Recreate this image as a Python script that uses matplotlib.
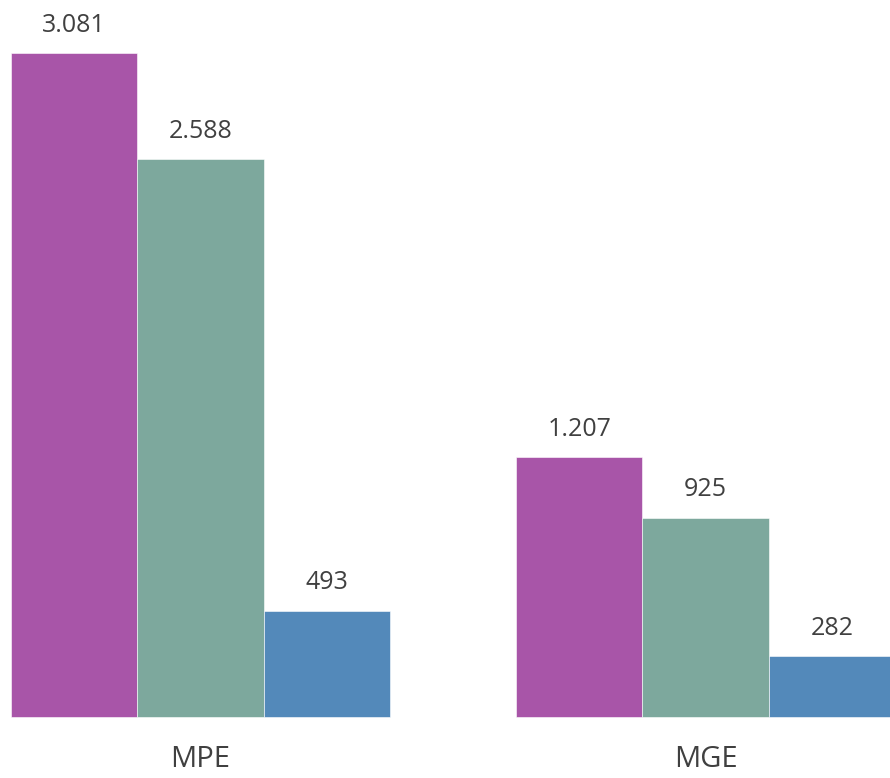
import matplotlib.pyplot as plt
import numpy as np

# Werte aus der Vorlage
kategorien = ['MPE', 'MGE']
reihe1 = [3081, 1207]
reihe2 = [2588, 925]
reihe3 = [493, 282]
farben = ['#A855A8', '#7DA89D', '#5389BA']

def fmt(v):
    return f'{v:,}'.replace(',', '.')

plt.rcParams['font.family'] = ['Open Sans', 'DejaVu Sans']

fig = plt.figure(figsize=(8.9, 7.78), dpi=100)
ax = fig.add_axes([0, 0, 1, 1])

x = np.arange(len(kategorien))
breite = 0.25
for i, (werte, farbe) in enumerate(zip([reihe1, reihe2, reihe3], farben)):
    bars = ax.bar(x + (i - 1) * breite, werte, breite, color=farbe,
                  edgecolor='white', linewidth=0.4)
    for b, v in zip(bars, werte):
        ax.annotate(fmt(v), (b.get_x() + b.get_width() / 2, v),
                    xytext=(0, 11), textcoords='offset points',
                    ha='center', va='bottom', fontsize=18, color='#404040')

for xi, k in zip(x, kategorien):
    ax.annotate(k, (xi, 0), xytext=(0, -20), textcoords='offset points',
                ha='center', va='top', fontsize=21, color='#404040')

ax.set_xlim(-0.397, 1.365)
ax.set_ylim(-283, 3327)
ax.axis('off')

fig.savefig('out.png', dpi=100)
